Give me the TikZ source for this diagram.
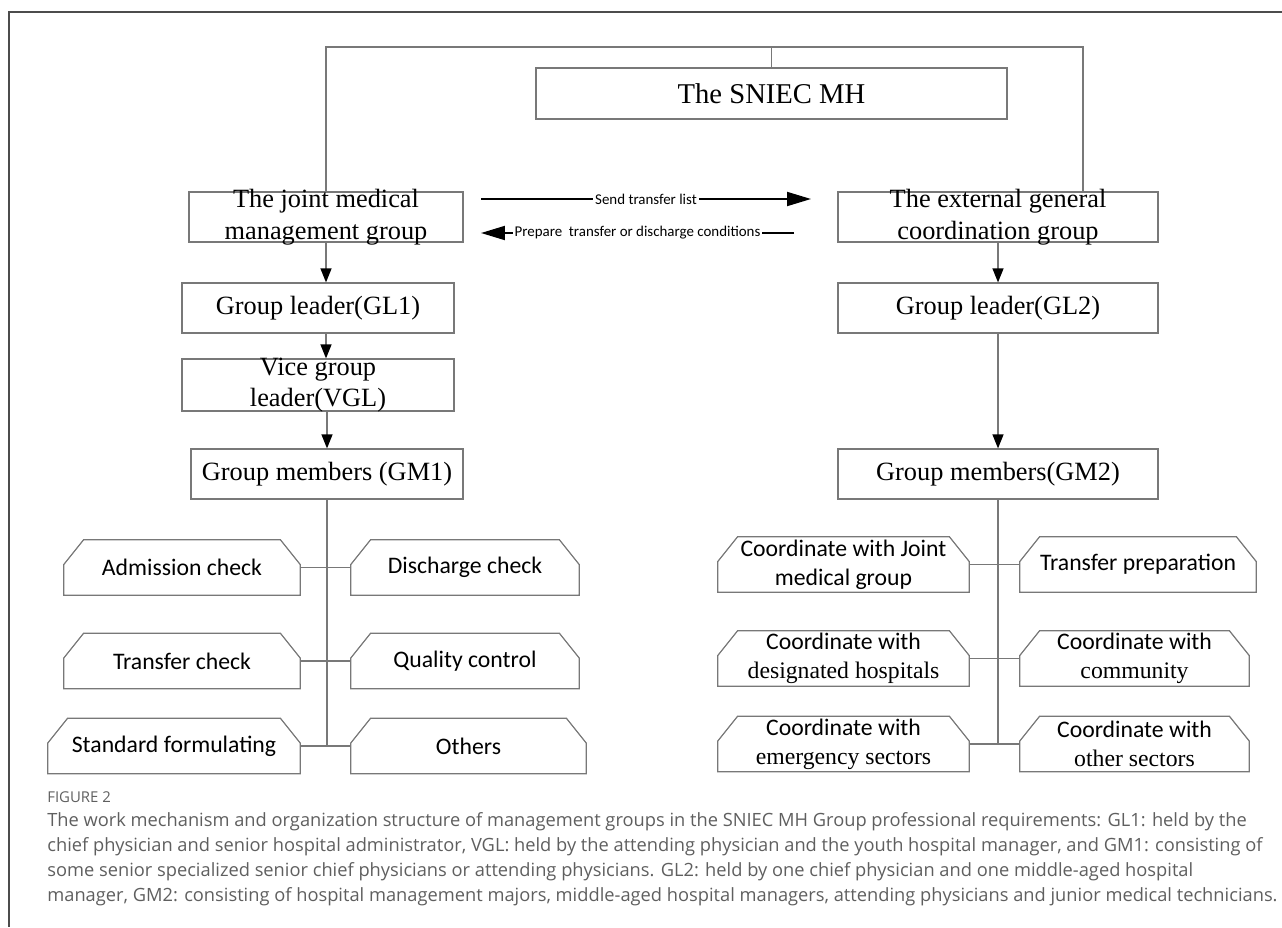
\documentclass[tikz,border=0pt]{standalone}
\usepackage{fontspec}
\setmainfont{Liberation Serif}
\newfontfamily\calfont{Carlito}
\newfontfamily\capfont{Open Sans}
\usetikzlibrary{arrows.meta}
\definecolor{boxgray}{RGB}{120,120,120}
\definecolor{capgray}{RGB}{95,95,95}

\tikzset{
  box/.style={draw=boxgray, line width=0.7pt, inner sep=0pt, minimum height=1cm},
  boxtext/.style={inner sep=0pt, align=center, font=\fontsize{15}{18}\selectfont},
  hexbox/.style={inner sep=0pt, align=center, minimum height=1.1cm, font=\calfont\fontsize{13.5}{16.3}\selectfont},
  link/.style={boxgray, line width=0.7pt},
  down/.style={boxgray, line width=0.7pt, -{Triangle[length=0.28cm, width=0.22cm, black]}},
  side/.style={black, line width=1.1pt, -{Triangle[length=0.48cm, width=0.28cm]}},
  tag/.style={fill=white, inner sep=1pt, font=\calfont\fontsize{8.5}{10}\selectfont},
  captext/.style={anchor=base west, inner sep=0pt, text=capgray, font=\capfont\fontsize{10.4}{12}\selectfont},
}

% box with the two top corners cut off
\newcommand{\chamferbox}[1]{%
  \draw[link] (#1.south west) -- ([yshift=-0.5cm]#1.north west) -- ([xshift=0.4cm]#1.north west)
    -- ([xshift=-0.4cm]#1.north east) -- ([yshift=-0.5cm]#1.north east) -- (#1.south east) -- cycle;}

\begin{document}
\begin{tikzpicture}[x=0.02cm, y=-0.02cm]
\useasboundingbox (0,0) rectangle (1282,927);
\draw[black!70, line width=0.9pt] (1282,12) -- (9,12) -- (9,927);

% top
\node[box, minimum width=9.42cm, minimum height=1.02cm, font=\fontsize{16.3}{19}\selectfont] (sniec) at (771.5,93.5) {The SNIEC MH};

% left column
\node[box, minimum width=5.48cm] (joint) at (326,217) {};
\node[boxtext] (jointt) at (joint) {The joint medical\\management group};
\node[box, minimum width=5.44cm, font=\fontsize{15}{18}\selectfont] (gl1) at (318,308) {Group leader(GL1)};
\node[box, minimum width=5.44cm, minimum height=1.04cm] (vgl) at (318,385) {};
\node[boxtext] (vglt) at (vgl) {Vice group\\leader(VGL)};
\node[box, minimum width=5.44cm, font=\fontsize{15}{18}\selectfont] (gm1) at (327,474) {Group members (GM1)};

% right column
\node[box, minimum width=6.4cm] (ext) at (998,217) {};
\node[boxtext] (extt) at (ext) {The external general\\coordination group};
\node[box, minimum width=6.4cm, font=\fontsize{15}{18}\selectfont] (gl2) at (998,308) {Group leader(GL2)};
\node[box, minimum width=6.4cm, font=\fontsize{15}{18}\selectfont] (gm2) at (998,474) {Group members(GM2)};

% tasks of GM1
\node[hexbox, minimum width=4.72cm] (adm) at (182,567.5) {Admission check};
\node[hexbox, minimum width=4.56cm] (dis) at (465,567.5) {Discharge check};
\node[hexbox, minimum width=4.72cm] (tra) at (182,661) {Transfer check};
\node[hexbox, minimum width=4.56cm] (qua) at (465,661) {Quality control};
\node[hexbox, minimum width=5.04cm] (std) at (174,746) {Standard formulating};
\node[hexbox, minimum width=4.7cm] (oth) at (468.5,746) {Others};

% tasks of GM2
\node[hexbox, minimum width=5.02cm] (cjm) at (843.5,564.5) {Coordinate with Joint\\medical group};
\node[hexbox, minimum width=4.72cm] (tpr) at (1138,564.5) {Transfer preparation};
\node[hexbox, minimum width=5.02cm] (cdes) at (843.5,658.5) {Coordinate with\\{\rmfamily designated hospitals}};
\node[hexbox, minimum width=4.58cm] (ccom) at (1134.5,658.5) {Coordinate with\\{\rmfamily community}};
\node[hexbox, minimum width=5.02cm] (cemg) at (843.5,744) {Coordinate with\\{\rmfamily emergency sectors}};
\node[hexbox, minimum width=4.58cm] (coth) at (1134.5,744) {Coordinate with\\{\rmfamily other sectors}};

\foreach \n in {adm,dis,tra,qua,std,oth,cjm,tpr,cdes,ccom,cemg,coth}
  \chamferbox{\n};

% connectors
\coordinate (topr) at (1083,47);
\draw[link] (joint.north) -- (joint.north |- topr) -- (topr) -- (topr |- ext.north);
\draw[link] (sniec.north) -- (sniec.north |- topr);

\draw[down] (joint.south) -- (joint.south |- gl1.north);
\draw[down] (joint.south |- gl1.south) -- (joint.south |- vgl.north);
\draw[down] (gm1.north |- vgl.south) -- (gm1.north);
\draw[down] (ext.south) -- (gl2.north);
\draw[down] (gl2.south) -- (gm2.north);

\coordinate (send1) at (481,199);
\coordinate (send2) at (811,199);
\coordinate (prep1) at (794,233);
\coordinate (prep2) at (481,233);
\draw[side] (send1) -- node[tag] (sendlbl) {Send transfer list} (send2);
\draw[side] (prep1) -- node[tag] (preplbl) {Prepare\ \ transfer or discharge conditions} (prep2);

\draw[link] (gm1.south) -- (gm1.south |- std.east);
\draw[link] (adm.east) -- (dis.west);
\draw[link] (tra.east) -- (qua.west);
\draw[link] (std.east) -- (oth.west);

\draw[link] (gm2.south) -- (gm2.south |- cemg.east);
\draw[link] (cjm.east) -- (tpr.west);
\draw[link] (cdes.east) -- (ccom.west);
\draw[link] (cemg.east) -- (coth.west);

% caption
\node[captext, font=\capfont\fontsize{8.5}{10}\selectfont] (figno) at (47,802) {FIGURE 2};
\node[captext] (cap1) at (47,826) {The work mechanism and organization structure of management groups in the SNIEC MH Group professional requirements: GL1: held by the};
\node[captext] (cap2) at (47,851) {chief physician and senior hospital administrator, VGL: held by the attending physician and the youth hospital manager, and GM1: consisting of};
\node[captext] (cap3) at (47,876) {some senior specialized senior chief physicians or attending physicians. GL2: held by one chief physician and one middle-aged hospital};
\node[captext] (cap4) at (47,901) {manager, GM2: consisting of hospital management majors, middle-aged hospital managers, attending physicians and junior medical technicians.};
\end{tikzpicture}
\end{document}
